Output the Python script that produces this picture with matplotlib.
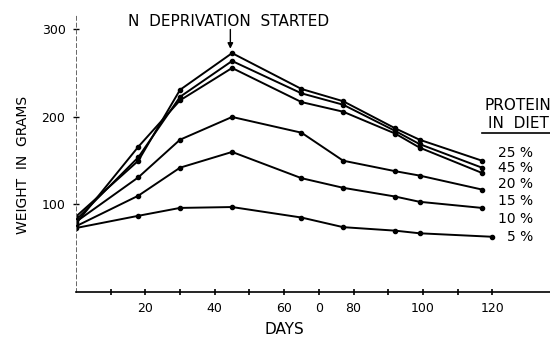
import matplotlib.pyplot as plt
from matplotlib.lines import Line2D

# days after start of experiment
days = [0, 18, 30, 45, 65, 77, 92, 99, 117]
days_5 = [0, 18, 30, 45, 65, 77, 92, 99, 120]

# body weight (g) per protein level
w25 = [86, 150, 231, 273, 232, 218, 187, 174, 150]
w45 = [82, 154, 223, 264, 227, 214, 184, 169, 142]
w20 = [78, 166, 219, 256, 217, 206, 181, 165, 136]
w15 = [80, 131, 174, 200, 182, 150, 138, 133, 117]
w10 = [75, 110, 142, 160, 130, 119, 109, 103, 96]
w5 = [73, 87, 96, 97, 85, 74, 70, 67, 63]

legend_labels = ['25 %', '45 %', '20 %', '15 %', '10 %', '5 %']
xtick_pos = [20, 40, 60, 70, 80, 100, 120]
xtick_txt = ['20', '40', '60', '0', '80', '100', '120']

fig = plt.figure(figsize=(5.5, 3.39), dpi=100)
ax = fig.add_axes([0.138, 0.139, 0.862, 0.823])

for w in [w25, w45, w20, w15, w10]:
    ax.plot(days, w, color='black', lw=1.4, marker='o', markersize=3)
ax.plot(days_5, w5, color='black', lw=1.4, marker='o', markersize=3)

ax.set_xlim(0, 136.6)
ax.set_ylim(0, 319)

ax.spines['top'].set_visible(False)
ax.spines['right'].set_visible(False)
ax.spines['left'].set_linestyle((0, (4, 3)))
ax.spines['left'].set_linewidth(0.7)
ax.spines['left'].set_color('#666666')
ax.spines['bottom'].set_linewidth(1.2)

ax.set_yticks([100, 200, 300])
ax.set_yticklabels(['100', '200', '300'], fontsize=9)
ax.tick_params(axis='y', direction='inout', length=5, width=1, pad=5)

ax.set_xticks(range(10, 130, 10))
ax.set_xticklabels([xtick_txt[xtick_pos.index(t)] if t in xtick_pos else ''
                    for t in range(10, 130, 10)], fontsize=9)
ax.tick_params(axis='x', direction='inout', length=4, width=1.2, pad=5)

fig.text(284 / 550, 1 - 329 / 339, 'DAYS', fontsize=11, ha='center', va='center')
fig.text(23 / 550, 1 - 165 / 339, 'WEIGHT  IN  GRAMS', fontsize=10,
         ha='center', va='center', rotation=90)

ax.text(44, 309, 'N  DEPRIVATION  STARTED', ha='center', va='center', fontsize=11)
ax.annotate('', xy=(44.5, 278), xytext=(44.5, 300), annotation_clip=False,
            arrowprops=dict(arrowstyle='-|>', color='black', lw=1,
                            mutation_scale=8, shrinkA=0, shrinkB=0))

# legend block at the right
fig.text(484 / 550, 1 - 106 / 339, 'PROTEIN', fontsize=11, va='center', ha='left')
fig.text(488 / 550, 1 - 123 / 339, 'IN  DIET', fontsize=11, va='center', ha='left')
fig.add_artist(Line2D([482 / 550, 1.0], [1 - 133 / 339, 1 - 133 / 339],
                      color='black', lw=1.2))
label_y = [153, 168, 184, 201, 219, 237]
for lab, yp in zip(legend_labels, label_y):
    fig.text(533 / 550, 1 - yp / 339, lab, fontsize=10, va='center', ha='right')

fig.savefig('out.png', dpi=100)
